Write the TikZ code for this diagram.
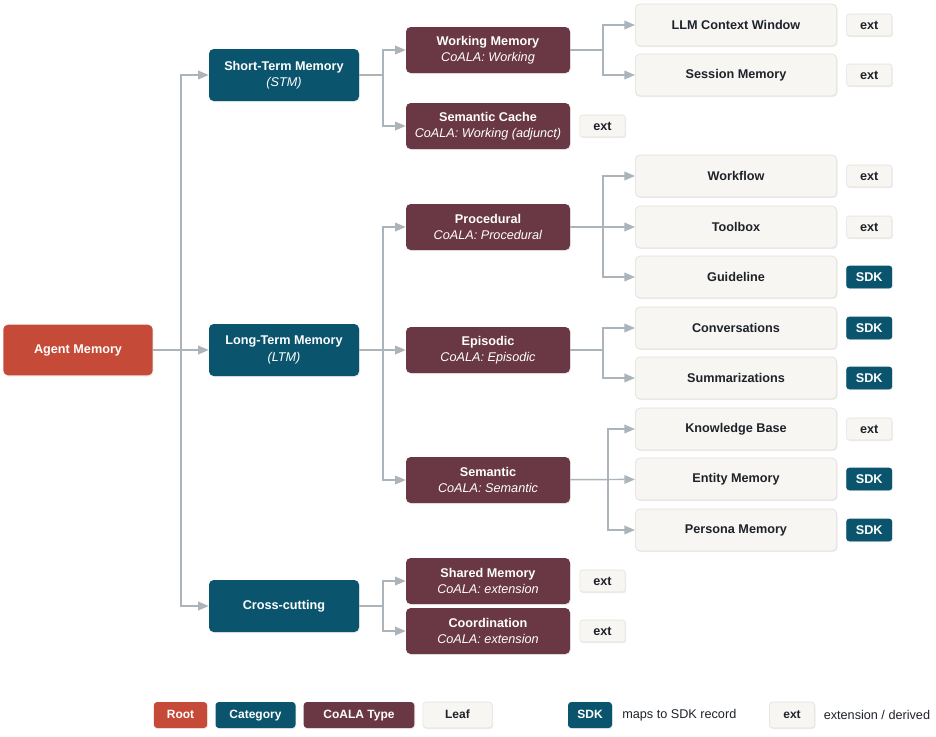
\documentclass[tikz,border=0pt]{standalone}
\usepackage{fontspec}
\setmainfont{Liberation Sans}
\usepackage{tikz}
\usetikzlibrary{arrows.meta,positioning,shadows}
\definecolor{RootRed}{RGB}{197,74,56}
\definecolor{CatBlue}{RGB}{11,84,110}
\definecolor{CoalaPlum}{RGB}{106,56,68}
\definecolor{LeafFill}{RGB}{248,246,242}
\definecolor{LeafLine}{RGB}{226,223,217}
\definecolor{Wire}{RGB}{170,180,186}
\definecolor{Ink}{RGB}{30,34,42}

\begin{document}
\begin{tikzpicture}[x=0.75pt,y=-0.75pt, every node/.style={font=\fontsize{9.5}{12.2}\selectfont, text=Ink},
  sh/.style={drop shadow={shadow xshift=0.7pt,shadow yshift=-0.9pt,opacity=0.13}},
  box/.style={sh,rounded corners=3.5pt,align=center,inner sep=2pt},
  rootbox/.style={box,fill=RootRed,text=white,font=\fontsize{9.5}{12.2}\selectfont\bfseries,minimum width=112pt,minimum height=38pt},
  catbox/.style={box,fill=CatBlue,text=white,minimum width=112.5pt,minimum height=39pt},
  coala/.style={box,fill=CoalaPlum,text=white,minimum width=123pt,minimum height=34.5pt},
  leaf/.style={box,fill=LeafFill,draw=LeafLine,line width=0.5pt,font=\fontsize{9.5}{12.2}\selectfont\bfseries,minimum width=151pt,minimum height=31.5pt},
  ext/.style={sh,rounded corners=2pt,fill=LeafFill,draw=LeafLine,line width=0.4pt,font=\fontsize{9.5}{12.2}\selectfont\bfseries,minimum width=34pt,minimum height=16.5pt,inner sep=1pt},
  sdk/.style={ext,fill=CatBlue,draw=CatBlue,text=white},
  wire/.style={draw=Wire,line width=1.1pt},
  arr/.style={wire,-{Triangle[length=8pt,width=6.5pt]}},
  key/.style={sh,rounded corners=2.5pt,font=\fontsize{9}{11}\selectfont\bfseries,minimum height=19.5pt,inner sep=1pt,text height=6.6pt,text depth=1.6pt}]
\useasboundingbox (0,0) rectangle (936,736);

% tree
\node[rootbox] (root) at (78,350) {Agent Memory};
\node[catbox] (stm) at (284,75) {\textbf{Short-Term Memory}\\\textit{(STM)}};
\node[catbox] (ltm) at (284,350) {\textbf{Long-Term Memory}\\\textit{(LTM)}};
\node[catbox] (cross) at (284,606) {\textbf{Cross-cutting}};

\node[coala] (work) at (488,50) {\textbf{Working Memory}\\\textit{CoALA: Working}};
\node[coala] (cache) at (488,126) {\textbf{Semantic Cache}\\\textit{CoALA: Working (adjunct)}};
\node[coala] (proc) at (488,227) {\textbf{Procedural}\\\textit{CoALA: Procedural}};
\node[coala] (epi) at (488,350) {\textbf{Episodic}\\\textit{CoALA: Episodic}};
\node[coala] (sem) at (488,480) {\textbf{Semantic}\\\textit{CoALA: Semantic}};
\node[coala] (shared) at (488,581) {\textbf{Shared Memory}\\\textit{CoALA: extension}};
\node[coala] (coord) at (488,631) {\textbf{Coordination}\\\textit{CoALA: extension}};

\node[leaf] (llm) at (736,25) {LLM Context Window};
\node[leaf] (sess) at (736,75) {Session Memory};
\node[leaf] (flow) at (736,176) {Workflow};
\node[leaf] (tools) at (736,227) {Toolbox};
\node[leaf] (guide) at (736,277) {Guideline};
\node[leaf] (conv) at (736,328) {Conversations};
\node[leaf] (summ) at (736,378) {Summarizations};
\node[leaf] (kb) at (736,429) {Knowledge Base};
\node[leaf] (ent) at (736,479) {Entity Memory};
\node[leaf] (pers) at (736,530) {Persona Memory};

% tags
\node[ext,right=7pt of llm] (t1) {ext};
\node[ext,right=7pt of sess] (t2) {ext};
\node[ext,right=7pt of cache] (t3) {ext};
\node[ext,right=7pt of flow] (t4) {ext};
\node[ext,right=7pt of tools] (t5) {ext};
\node[sdk,right=7pt of guide] (t6) {SDK};
\node[sdk,right=7pt of conv] (t7) {SDK};
\node[sdk,right=7pt of summ] (t8) {SDK};
\node[ext,right=7pt of kb] (t9) {ext};
\node[sdk,right=7pt of ent] (t10) {SDK};
\node[sdk,right=7pt of pers] (t11) {SDK};
\node[ext,right=7pt of shared] (t12) {ext};
\node[ext,right=7pt of coord] (t13) {ext};

% junctions
\coordinate (j0) at (181,350);
\coordinate (j1) at (383,75);
\coordinate (j2) at (383,350);
\coordinate (j3) at (383,606);
\coordinate (j4) at (603,50);
\coordinate (j5) at (603,227);
\coordinate (j6) at (603,350);
\coordinate (j7) at (608,480);

\draw[arr] (root) -- (ltm);
\draw[arr] (j0) |- (stm);
\draw[arr] (j0) |- (cross);

\draw[wire] (stm) -- (j1);
\draw[arr] (j1) |- (work);
\draw[arr] (j1) |- (cache);
\draw[arr] (ltm) -- (epi);
\draw[arr] (j2) |- (proc);
\draw[arr] (j2) |- (sem);
\draw[wire] (cross) -- (j3);
\draw[arr] (j3) |- (shared);
\draw[arr] (j3) |- (coord);

\draw[wire] (work) -- (j4);
\draw[arr] (j4) |- (llm);
\draw[arr] (j4) |- (sess);
\draw[arr] (proc) -- (tools);
\draw[arr] (j5) |- (flow);
\draw[arr] (j5) |- (guide);
\draw[wire] (epi) -- (j6);
\draw[arr] (j6) |- (conv);
\draw[arr] (j6) |- (summ);
\draw[arr] (sem) -- (ent);
\draw[arr] (j7) |- (kb);
\draw[arr] (j7) |- (pers);

% legend
\node[key,fill=RootRed,text=white,minimum width=40pt] (kroot) at (180.5,715) {Root};
\node[key,fill=CatBlue,text=white,minimum width=60pt] (kcat) at (255.5,715) {Category};
\node[key,fill=CoalaPlum,text=white,minimum width=83pt] (kcoala) at (359,715) {CoALA Type};
\node[key,fill=LeafFill,draw=LeafLine,line width=0.4pt,minimum width=52pt] (kleaf) at (457.5,715) {Leaf};
\node[key,fill=CatBlue,text=white,minimum width=33pt] (ksdk) at (590,715) {SDK};
\node[anchor=west,inner sep=0pt] (lsdk) at (622,715) {maps to SDK record};
\node[key,fill=LeafFill,draw=LeafLine,line width=0.4pt,minimum width=34pt] (kext) at (792,715) {ext};
\node[anchor=west,inner sep=0pt] (lext) at (823.5,715) {extension / derived};
\end{tikzpicture}
\end{document}
